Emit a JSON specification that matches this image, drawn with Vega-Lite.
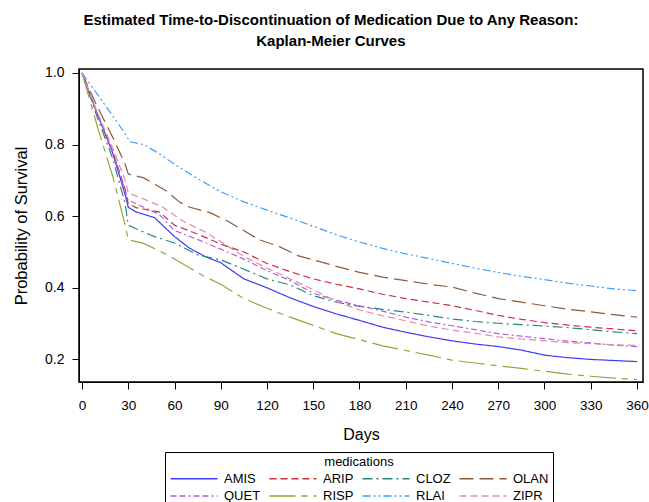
{
  "$schema": "https://vega.github.io/schema/vega-lite/v6.json",
  "width": 564,
  "height": 313,
  "autosize": {"type": "none"},
  "padding": {"left": 79, "top": 69, "right": 6, "bottom": 120},
  "title": {
    "text": ["Estimated Time-to-Discontinuation of Medication Due to Any Reason:", "Kaplan-Meier Curves"],
    "font": "Liberation Sans",
    "fontSize": 15,
    "fontWeight": "bold",
    "color": "black",
    "anchor": "middle",
    "frame": "bounds",
    "offset": 17,
    "lineHeight": 21
  },
  "data": {
    "values": [
      {"m":"AMIS","d":0,"s":1},{"m":"AMIS","d":10,"s":0.885},{"m":"AMIS","d":20,"s":0.775},{"m":"AMIS","d":28,"s":0.66},{"m":"AMIS","d":30,"s":0.625},{"m":"AMIS","d":35,"s":0.612},{"m":"AMIS","d":47,"s":0.596},{"m":"AMIS","d":60,"s":0.543},{"m":"AMIS","d":70,"s":0.51},{"m":"AMIS","d":80,"s":0.487},{"m":"AMIS","d":90,"s":0.47},{"m":"AMIS","d":105,"s":0.425},{"m":"AMIS","d":120,"s":0.4},{"m":"AMIS","d":135,"s":0.372},{"m":"AMIS","d":150,"s":0.348},{"m":"AMIS","d":165,"s":0.327},{"m":"AMIS","d":180,"s":0.309},{"m":"AMIS","d":195,"s":0.29},{"m":"AMIS","d":210,"s":0.276},{"m":"AMIS","d":225,"s":0.263},{"m":"AMIS","d":240,"s":0.252},{"m":"AMIS","d":255,"s":0.243},{"m":"AMIS","d":270,"s":0.236},{"m":"AMIS","d":285,"s":0.226},{"m":"AMIS","d":300,"s":0.212},{"m":"AMIS","d":315,"s":0.205},{"m":"AMIS","d":330,"s":0.2},{"m":"AMIS","d":345,"s":0.197},{"m":"AMIS","d":360,"s":0.194},
      {"m":"ARIP","d":0,"s":1},{"m":"ARIP","d":10,"s":0.885},{"m":"ARIP","d":20,"s":0.78},{"m":"ARIP","d":28,"s":0.675},{"m":"ARIP","d":30,"s":0.635},{"m":"ARIP","d":35,"s":0.624},{"m":"ARIP","d":50,"s":0.612},{"m":"ARIP","d":60,"s":0.575},{"m":"ARIP","d":75,"s":0.55},{"m":"ARIP","d":90,"s":0.522},{"m":"ARIP","d":105,"s":0.5},{"m":"ARIP","d":120,"s":0.468},{"m":"ARIP","d":135,"s":0.445},{"m":"ARIP","d":150,"s":0.425},{"m":"ARIP","d":165,"s":0.41},{"m":"ARIP","d":180,"s":0.397},{"m":"ARIP","d":195,"s":0.382},{"m":"ARIP","d":210,"s":0.37},{"m":"ARIP","d":225,"s":0.36},{"m":"ARIP","d":240,"s":0.35},{"m":"ARIP","d":255,"s":0.337},{"m":"ARIP","d":270,"s":0.323},{"m":"ARIP","d":285,"s":0.312},{"m":"ARIP","d":300,"s":0.303},{"m":"ARIP","d":315,"s":0.296},{"m":"ARIP","d":330,"s":0.29},{"m":"ARIP","d":345,"s":0.285},{"m":"ARIP","d":360,"s":0.28},
      {"m":"CLOZ","d":0,"s":1},{"m":"CLOZ","d":10,"s":0.875},{"m":"CLOZ","d":20,"s":0.76},{"m":"CLOZ","d":28,"s":0.635},{"m":"CLOZ","d":30,"s":0.575},{"m":"CLOZ","d":35,"s":0.565},{"m":"CLOZ","d":47,"s":0.543},{"m":"CLOZ","d":60,"s":0.525},{"m":"CLOZ","d":75,"s":0.492},{"m":"CLOZ","d":90,"s":0.478},{"m":"CLOZ","d":105,"s":0.452},{"m":"CLOZ","d":120,"s":0.425},{"m":"CLOZ","d":135,"s":0.408},{"m":"CLOZ","d":150,"s":0.378},{"m":"CLOZ","d":165,"s":0.36},{"m":"CLOZ","d":180,"s":0.348},{"m":"CLOZ","d":195,"s":0.34},{"m":"CLOZ","d":210,"s":0.332},{"m":"CLOZ","d":225,"s":0.323},{"m":"CLOZ","d":240,"s":0.313},{"m":"CLOZ","d":255,"s":0.306},{"m":"CLOZ","d":270,"s":0.301},{"m":"CLOZ","d":285,"s":0.297},{"m":"CLOZ","d":300,"s":0.293},{"m":"CLOZ","d":315,"s":0.289},{"m":"CLOZ","d":330,"s":0.283},{"m":"CLOZ","d":345,"s":0.277},{"m":"CLOZ","d":360,"s":0.272},
      {"m":"OLAN","d":0,"s":1},{"m":"OLAN","d":10,"s":0.905},{"m":"OLAN","d":20,"s":0.82},{"m":"OLAN","d":28,"s":0.745},{"m":"OLAN","d":30,"s":0.718},{"m":"OLAN","d":40,"s":0.707},{"m":"OLAN","d":55,"s":0.67},{"m":"OLAN","d":63,"s":0.64},{"m":"OLAN","d":70,"s":0.625},{"m":"OLAN","d":83,"s":0.61},{"m":"OLAN","d":95,"s":0.585},{"m":"OLAN","d":106,"s":0.557},{"m":"OLAN","d":115,"s":0.534},{"m":"OLAN","d":128,"s":0.515},{"m":"OLAN","d":140,"s":0.49},{"m":"OLAN","d":150,"s":0.478},{"m":"OLAN","d":165,"s":0.46},{"m":"OLAN","d":180,"s":0.443},{"m":"OLAN","d":195,"s":0.43},{"m":"OLAN","d":210,"s":0.42},{"m":"OLAN","d":225,"s":0.41},{"m":"OLAN","d":240,"s":0.402},{"m":"OLAN","d":255,"s":0.385},{"m":"OLAN","d":270,"s":0.37},{"m":"OLAN","d":285,"s":0.36},{"m":"OLAN","d":300,"s":0.35},{"m":"OLAN","d":315,"s":0.34},{"m":"OLAN","d":330,"s":0.333},{"m":"OLAN","d":345,"s":0.325},{"m":"OLAN","d":360,"s":0.318},
      {"m":"QUET","d":0,"s":1},{"m":"QUET","d":10,"s":0.885},{"m":"QUET","d":20,"s":0.78},{"m":"QUET","d":28,"s":0.67},{"m":"QUET","d":30,"s":0.645},{"m":"QUET","d":40,"s":0.625},{"m":"QUET","d":50,"s":0.605},{"m":"QUET","d":60,"s":0.56},{"m":"QUET","d":75,"s":0.535},{"m":"QUET","d":90,"s":0.508},{"m":"QUET","d":105,"s":0.48},{"m":"QUET","d":120,"s":0.448},{"m":"QUET","d":135,"s":0.42},{"m":"QUET","d":150,"s":0.385},{"m":"QUET","d":165,"s":0.365},{"m":"QUET","d":180,"s":0.35},{"m":"QUET","d":195,"s":0.335},{"m":"QUET","d":210,"s":0.318},{"m":"QUET","d":225,"s":0.305},{"m":"QUET","d":240,"s":0.294},{"m":"QUET","d":255,"s":0.283},{"m":"QUET","d":270,"s":0.272},{"m":"QUET","d":285,"s":0.265},{"m":"QUET","d":300,"s":0.258},{"m":"QUET","d":315,"s":0.251},{"m":"QUET","d":330,"s":0.246},{"m":"QUET","d":345,"s":0.24},{"m":"QUET","d":360,"s":0.236},
      {"m":"RISP","d":0,"s":1},{"m":"RISP","d":10,"s":0.85},{"m":"RISP","d":20,"s":0.71},{"m":"RISP","d":28,"s":0.575},{"m":"RISP","d":30,"s":0.534},{"m":"RISP","d":40,"s":0.524},{"m":"RISP","d":55,"s":0.493},{"m":"RISP","d":65,"s":0.468},{"m":"RISP","d":78,"s":0.435},{"m":"RISP","d":90,"s":0.41},{"m":"RISP","d":105,"s":0.37},{"m":"RISP","d":120,"s":0.343},{"m":"RISP","d":135,"s":0.318},{"m":"RISP","d":150,"s":0.295},{"m":"RISP","d":165,"s":0.272},{"m":"RISP","d":180,"s":0.255},{"m":"RISP","d":195,"s":0.238},{"m":"RISP","d":210,"s":0.225},{"m":"RISP","d":225,"s":0.212},{"m":"RISP","d":240,"s":0.198},{"m":"RISP","d":255,"s":0.19},{"m":"RISP","d":270,"s":0.182},{"m":"RISP","d":285,"s":0.175},{"m":"RISP","d":300,"s":0.167},{"m":"RISP","d":315,"s":0.159},{"m":"RISP","d":330,"s":0.153},{"m":"RISP","d":345,"s":0.148},{"m":"RISP","d":360,"s":0.144},
      {"m":"RLAI","d":0,"s":1},{"m":"RLAI","d":10,"s":0.94},{"m":"RLAI","d":20,"s":0.88},{"m":"RLAI","d":28,"s":0.83},{"m":"RLAI","d":31,"s":0.808},{"m":"RLAI","d":40,"s":0.8},{"m":"RLAI","d":50,"s":0.775},{"m":"RLAI","d":60,"s":0.745},{"m":"RLAI","d":75,"s":0.705},{"m":"RLAI","d":90,"s":0.668},{"m":"RLAI","d":105,"s":0.64},{"m":"RLAI","d":120,"s":0.617},{"m":"RLAI","d":135,"s":0.595},{"m":"RLAI","d":150,"s":0.572},{"m":"RLAI","d":165,"s":0.548},{"m":"RLAI","d":180,"s":0.528},{"m":"RLAI","d":195,"s":0.51},{"m":"RLAI","d":210,"s":0.495},{"m":"RLAI","d":225,"s":0.482},{"m":"RLAI","d":240,"s":0.468},{"m":"RLAI","d":255,"s":0.455},{"m":"RLAI","d":270,"s":0.443},{"m":"RLAI","d":285,"s":0.432},{"m":"RLAI","d":300,"s":0.423},{"m":"RLAI","d":315,"s":0.413},{"m":"RLAI","d":330,"s":0.405},{"m":"RLAI","d":345,"s":0.397},{"m":"RLAI","d":360,"s":0.392},
      {"m":"ZIPR","d":0,"s":1},{"m":"ZIPR","d":10,"s":0.89},{"m":"ZIPR","d":20,"s":0.79},{"m":"ZIPR","d":28,"s":0.7},{"m":"ZIPR","d":30,"s":0.665},{"m":"ZIPR","d":40,"s":0.648},{"m":"ZIPR","d":52,"s":0.626},{"m":"ZIPR","d":66,"s":0.585},{"m":"ZIPR","d":80,"s":0.556},{"m":"ZIPR","d":95,"s":0.515},{"m":"ZIPR","d":106,"s":0.485},{"m":"ZIPR","d":120,"s":0.455},{"m":"ZIPR","d":135,"s":0.425},{"m":"ZIPR","d":150,"s":0.395},{"m":"ZIPR","d":165,"s":0.362},{"m":"ZIPR","d":180,"s":0.338},{"m":"ZIPR","d":195,"s":0.322},{"m":"ZIPR","d":210,"s":0.308},{"m":"ZIPR","d":225,"s":0.293},{"m":"ZIPR","d":240,"s":0.282},{"m":"ZIPR","d":255,"s":0.273},{"m":"ZIPR","d":270,"s":0.263},{"m":"ZIPR","d":285,"s":0.257},{"m":"ZIPR","d":300,"s":0.252},{"m":"ZIPR","d":315,"s":0.247},{"m":"ZIPR","d":330,"s":0.244},{"m":"ZIPR","d":345,"s":0.241},{"m":"ZIPR","d":360,"s":0.239}
    ]
  },
  "mark": {"type": "line", "strokeWidth": 1.2, "clip": true},
  "encoding": {
    "x": {
      "field": "d", "type": "quantitative",
      "scale": {"domain": [-1.95, 363.9], "nice": false, "zero": false},
      "axis": {
        "title": "Days",
        "values": [0, 30, 60, 90, 120, 150, 180, 210, 240, 270, 300, 330, 360],
        "grid": false, "tickSize": 7, "labelPadding": 9, "titlePadding": 15,
        "labelFontSize": 13.5, "titleFontSize": 16, "titleFontWeight": "normal",
        "labelFlush": false
      }
    },
    "y": {
      "field": "s", "type": "quantitative",
      "scale": {"domain": [0.137, 1.011], "nice": false, "zero": false},
      "axis": {
        "title": "Probability of Survival",
        "values": [0.2, 0.4, 0.6, 0.8, 1.0],
        "format": ".1f",
        "grid": false, "tickSize": 7, "labelPadding": 8, "titlePadding": 15,
        "labelFontSize": 14, "titleFontSize": 16.5, "titleFontWeight": "normal"
      }
    },
    "color": {
      "field": "m", "type": "nominal",
      "scale": {
        "domain": ["AMIS", "ARIP", "CLOZ", "OLAN", "QUET", "RISP", "RLAI", "ZIPR"],
        "range": ["#3b3bf5", "#d0303e", "#27897a", "#8b5c3a", "#b25ce6", "#99a33b", "#3da0ff", "#e58aa6"]
      },
      "legend": {
        "title": "medications",
        "orient": "none", "legendX": 86, "legendY": 383,
        "direction": "horizontal", "columns": 4,
        "titleAnchor": "middle", "titleFontSize": 13, "titleFontWeight": "normal",
        "labelFontSize": 13, "symbolType": "M-1,0H8.4", "symbolSize": 100,
        "symbolStrokeWidth": 1.5, "strokeColor": "black", "padding": 4,
        "columnPadding": 5, "rowPadding": 3.5, "labelOffset": 42, "titlePadding": 3,
        "encode": {
          "symbols": {
            "update": {
              "strokeDash": {"scale": "strokeDash", "field": "value"},
              "stroke": {"scale": "color", "field": "value"},
              "opacity": {"value": 1}
            }
          }
        }
      }
    },
    "strokeDash": {
      "field": "m", "type": "nominal",
      "scale": {
        "domain": ["AMIS", "ARIP", "CLOZ", "OLAN", "QUET", "RISP", "RLAI", "ZIPR"],
        "range": [[1, 0], [7, 4], [10, 4, 2, 4], [14, 6], [6, 3, 6, 3, 2, 3], [26, 6, 6, 6], [8, 3, 2, 3, 2, 3], [7, 4]]
      },
      "legend": null
    }
  },
  "config": {
    "font": "Liberation Sans",
    "view": {"stroke": "black", "strokeWidth": 1.5},
    "axis": {"domainColor": "black", "tickColor": "black", "labelColor": "black", "titleColor": "black"},
    "legend": {"labelColor": "black", "titleColor": "black"}
  }
}
